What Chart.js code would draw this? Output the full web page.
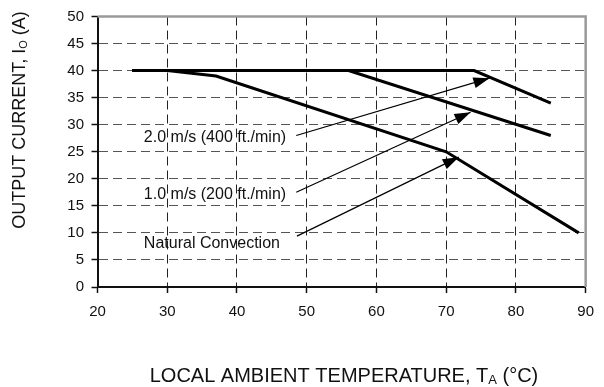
<!DOCTYPE html>
<html>
<head>
<meta charset="utf-8">
<script src="https://cdn.jsdelivr.net/npm/chart.js@4"></script>
<style>
  html, body { margin: 0; padding: 0; background: #fff; }
  #wrap { width: 604px; height: 387px; }
</style>
</head>
<body>
<div id="wrap"><canvas id="derating" width="604" height="387"></canvas></div>
<script>
// derating curves
const xTicks = [20, 30, 40, 50, 60, 70, 80, 90];
const yTicks = [0, 5, 10, 15, 20, 25, 30, 35, 40, 45, 50];

const natTemp = [25, 30, 37, 70, 89];
const natCurr = [40, 40, 39, 25, 10];
const air1Temp = [25, 56, 85];
const air1Curr = [40, 40, 28];
const air2Temp = [25, 74, 85];
const air2Curr = [40, 40, 34];

// callout arrows: tail (label side) -> head (on the curve)
const arrowTailX = [48.5, 48.5, 48.6];
const arrowTailY = [28.0, 17.5, 9.4];
const arrowHeadX = [76.2, 73.5, 71.8];
const arrowHeadY = [38.6, 32.3, 24.0];

const labelText = ['2.0 m/s (400 ft./min)', '1.0 m/s (200 ft./min)', 'Natural Convection'];
const labelX = [26.65, 26.65, 26.65];
const labelY = [26.8, 16.2, 7.2];

const FONT = '"Liberation Sans", Arial, sans-serif';

const pts = (xs, ys) => xs.map((x, i) => ({ x, y: ys[i] }));

const curveStyle = { showLine: true, borderColor: '#000', borderWidth: 3, pointRadius: 0, fill: false, tension: 0, borderJoinStyle: 'miter' };
const arrowStyle = { showLine: true, borderColor: '#000', borderWidth: 1.2, pointRadius: 0, fill: false, tension: 0 };

const datasets = [
  { label: 'Natural Convection', data: pts(natTemp, natCurr), ...curveStyle },
  { label: '1.0 m/s', data: pts(air1Temp, air1Curr), ...curveStyle },
  { label: '2.0 m/s', data: pts(air2Temp, air2Curr), ...curveStyle }
];
arrowTailX.forEach((x, i) => {
  datasets.push({ label: 'arrow' + i, data: [{ x, y: arrowTailY[i] }, { x: arrowHeadX[i], y: arrowHeadY[i] }], ...arrowStyle });
});

// text with a subscript part: [[text, isSub], ...]
function partsWidth(ctx, parts, size, subSize) {
  let w = 0;
  parts.forEach(p => {
    ctx.font = (p[1] ? subSize : size) + 'px ' + FONT;
    w += ctx.measureText(p[0]).width;
  });
  return w;
}
function drawParts(ctx, parts, x, y, size, subSize, subDrop) {
  let cx = x;
  parts.forEach(p => {
    ctx.font = (p[1] ? subSize : size) + 'px ' + FONT;
    ctx.fillText(p[0], cx, p[1] ? y + subDrop : y);
    cx += ctx.measureText(p[0]).width;
  });
}

const extras = {
  id: 'extras',
  afterDatasetsDraw(chart) {
    const { ctx, chartArea: a, scales: { x, y } } = chart;
    ctx.save();
    // frame top + right
    ctx.strokeStyle = '#9a9a9a';
    ctx.lineWidth = 2.5;
    ctx.beginPath();
    ctx.moveTo(a.left, a.top);
    ctx.lineTo(a.right, a.top);
    ctx.lineTo(a.right, a.bottom);
    ctx.stroke();

    // arrow heads
    ctx.fillStyle = '#000';
    arrowHeadX.forEach((hx, i) => {
      const px = x.getPixelForValue(hx), py = y.getPixelForValue(arrowHeadY[i]);
      const tx = x.getPixelForValue(arrowTailX[i]), ty = y.getPixelForValue(arrowTailY[i]);
      const ang = Math.atan2(py - ty, px - tx);
      const len = 16, half = 5.5;
      ctx.beginPath();
      ctx.moveTo(px, py);
      ctx.lineTo(px - len * Math.cos(ang) + half * Math.sin(ang), py - len * Math.sin(ang) - half * Math.cos(ang));
      ctx.lineTo(px - len * Math.cos(ang) - half * Math.sin(ang), py - len * Math.sin(ang) + half * Math.cos(ang));
      ctx.closePath();
      ctx.fill();
    });

    // curve labels
    ctx.fillStyle = '#111';
    ctx.font = '16px ' + FONT;
    ctx.textAlign = 'left';
    ctx.textBaseline = 'alphabetic';
    labelText.forEach((t, i) => {
      ctx.fillText(t, x.getPixelForValue(labelX[i]), y.getPixelForValue(labelY[i]));
    });

    // axis titles (with subscripts)
    const xt = [['LOCAL AMBIENT TEMPERATURE, T', false], ['A', true], [' (°C)', false]];
    const xw = partsWidth(ctx, xt, 20, 13);
    drawParts(ctx, xt, 344 - xw / 2, 381.5, 20, 13, 2);

    const yt = [['OUTPUT CURRENT, I', false], ['O', true], [' (A)', false]];
    const yw = partsWidth(ctx, yt, 18, 11);
    ctx.translate(25, 120);
    ctx.rotate(-Math.PI / 2);
    drawParts(ctx, yt, -yw / 2, 0, 18, 11, 2);
    ctx.restore();
  }
};

new Chart(document.getElementById('derating'), {
  type: 'scatter',
  data: { datasets },
  options: {
    responsive: false,
    animation: false,
    layout: { padding: { top: 15, right: 9, left: 0, bottom: 0 } },
    plugins: { legend: { display: false }, tooltip: { enabled: false } },
    scales: {
      x: {
        type: 'linear', min: 20, max: 90,
        afterBuildTicks: s => { s.ticks = xTicks.map(v => ({ value: v })); },
        afterFit: s => { s.height = 100; },
        ticks: { color: '#111', font: { family: FONT, size: 15 }, padding: 10, maxRotation: 0 },
        grid: {
          color: c => (c.tick && (c.tick.value === 20 || c.tick.value === 90)) ? 'rgba(0,0,0,0)' : '#222',
          lineWidth: 1, tickLength: 6, tickColor: '#111', tickWidth: 1.5
        },
        border: { color: '#111', width: 2, dash: [9, 5] }
      },
      y: {
        type: 'linear', min: 0, max: 50,
        afterBuildTicks: s => { s.ticks = yTicks.map(v => ({ value: v })); },
        afterFit: s => { s.width = 97.5; },
        ticks: { color: '#111', font: { family: FONT, size: 15 }, padding: 7.5 },
        grid: {
          color: c => (c.tick && (c.tick.value === 0 || c.tick.value === 50)) ? 'rgba(0,0,0,0)' : '#555',
          lineWidth: 1, tickLength: 6, tickColor: '#111', tickWidth: 1.5
        },
        border: { color: '#111', width: 2, dash: [9, 5] }
      }
    }
  },
  plugins: [extras]
});
</script>
</body>
</html>
